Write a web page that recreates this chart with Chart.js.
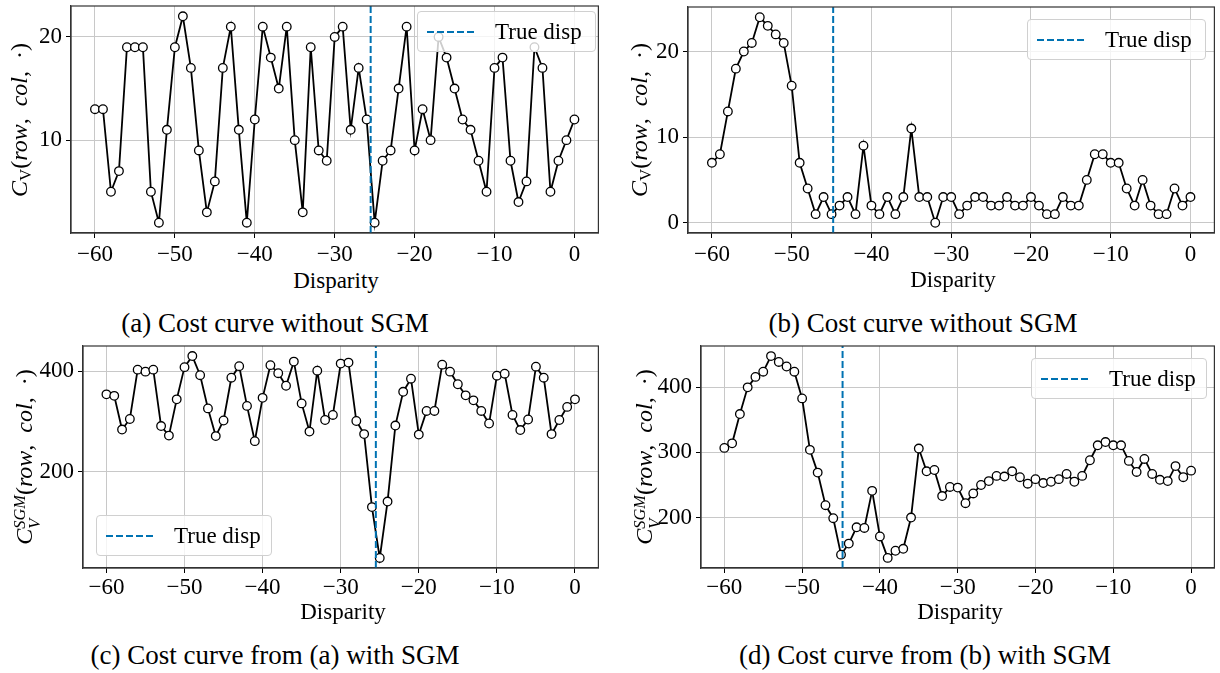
<!DOCTYPE html>
<html>
<head>
<meta charset="utf-8">
<script src="https://cdn.jsdelivr.net/npm/chart.js@4"></script>
<style>
  body { margin: 0; width: 1220px; height: 673px; background: #fff; overflow: hidden; position: relative; font-family: 'Liberation Serif', serif; color: #000; }
  canvas { position: absolute; }
  .txt { position: absolute; white-space: nowrap; transform: translate(-50%, -50%); line-height: 1; }
  .cap { font-size: 27px; }
  .xlab { font-size: 23px; }
  .ylab { font-size: 24px; transform: translate(-50%, -50%) rotate(-90deg); }
  .ylab sub { font-size: 0.7em; vertical-align: -0.25em; }
  .ss { display: inline-flex; flex-direction: column; font-size: 0.68em; line-height: 0.95; vertical-align: 0.45em; font-style: italic; }
  .legend { position: absolute; box-sizing: border-box; height: 41px; border: 1px solid #d0d0d0; border-radius: 4px; background: rgba(255,255,255,0.8); display: flex; align-items: center; font-size: 23px; }
  .legend .dash { width: 49px; height: 2px; margin: 0 19px 0 9px; background: repeating-linear-gradient(to right, #0072b2 0 7px, transparent 7px 10px); }
</style>
</head>
<body>
<canvas id="chartA"></canvas>
<canvas id="chartB"></canvas>
<canvas id="chartC"></canvas>
<canvas id="chartD"></canvas>

<div class="txt ylab" style="left:21px; top:120px;"><i>C</i><sub>V</sub>(<i>row</i>, &nbsp;<i>col</i>, &nbsp;·)</div>
<div class="txt ylab" style="left:641px; top:120px;"><i>C</i><sub>V</sub>(<i>row</i>, &nbsp;<i>col</i>, &nbsp;·)</div>
<div class="txt ylab" style="left:27px; top:457px;"><i>C</i><span class="ss"><span>SGM</span><span>V</span></span>(<i>row</i>, &nbsp;<i>col</i>, &nbsp;·)</div>
<div class="txt ylab" style="left:647px; top:457px;"><i>C</i><span class="ss"><span>SGM</span><span>V</span></span>(<i>row</i>, &nbsp;<i>col</i>, &nbsp;·)</div>

<div class="txt xlab" style="left:336px; top:280px;">Disparity</div>
<div class="txt xlab" style="left:953px; top:279px;">Disparity</div>
<div class="txt xlab" style="left:343px; top:611px;">Disparity</div>
<div class="txt xlab" style="left:960px; top:611px;">Disparity</div>

<div class="txt cap" style="left:275px; top:323px;">(a) Cost curve without SGM</div>
<div class="txt cap" style="left:923px; top:323px;">(b) Cost curve without SGM</div>
<div class="txt cap" style="left:275px; top:655px;">(c) Cost curve from (a) with SGM</div>
<div class="txt cap" style="left:925px; top:655px;">(d) Cost curve from (b) with SGM</div>

<div class="legend" style="left:417px; top:11px; width:179px;"><span class="dash"></span>True disp</div>
<div class="legend" style="left:1027px; top:19px; width:179px;"><span class="dash"></span>True disp</div>
<div class="legend" style="left:96px; top:515px; width:176px;"><span class="dash"></span>True disp</div>
<div class="legend" style="left:1031px; top:358px; width:176px;"><span class="dash"></span>True disp</div>

<script>
// disparity axis shared by all four panels
const disparity = [-60, -59, -58, -57, -56, -55, -54, -53, -52, -51,
                   -50, -49, -48, -47, -46, -45, -44, -43, -42, -41,
                   -40, -39, -38, -37, -36, -35, -34, -33, -32, -31,
                   -30, -29, -28, -27, -26, -25, -24, -23, -22, -21,
                   -20, -19, -18, -17, -16, -15, -14, -13, -12, -11,
                   -10, -9, -8, -7, -6, -5, -4, -3, -2, -1, 0];

// (a) cost curve without SGM
const costA = [13, 13, 5, 7, 19, 19, 19, 5, 2, 11,
               19, 22, 17, 9, 3, 6, 17, 21, 11, 2,
               12, 21, 18, 15, 21, 10, 3, 19, 9, 8,
               20, 21, 11, 17, 12, 2, 8, 9, 15, 21,
               9, 13, 10, 20, 18, 15, 12, 11, 8, 5,
               17, 18, 8, 4, 6, 19, 17, 5, 8, 10, 12];
// (b) cost curve without SGM
const costB = [7, 8, 13, 18, 20, 21, 24, 23, 22, 21,
               16, 7, 4, 1, 3, 1, 2, 3, 1, 9,
               2, 1, 3, 1, 3, 11, 3, 3, 0, 3,
               3, 1, 2, 3, 3, 2, 2, 3, 2, 2,
               3, 2, 1, 1, 3, 2, 2, 5, 8, 8,
               7, 7, 4, 2, 5, 2, 1, 1, 4, 2, 3];
// (c) cost curve from (a) with SGM
const costC = [354, 351, 284, 305, 403, 399, 403, 291, 272, 344,
               408, 430, 392, 326, 271, 302, 387, 410, 331, 261,
               347, 412, 396, 371, 419, 336, 280, 401, 303, 313,
               415, 417, 301, 275, 130, 29, 141, 292, 359, 385,
               274, 321, 321, 413, 399, 374, 352, 342, 321, 296,
               391, 395, 313, 283, 304, 409, 387, 275, 303, 329, 344];
// (d) cost curve from (b) with SGM
const costD = [307, 314, 359, 400, 416, 424, 448, 439, 432, 424,
               383, 304, 269, 219, 199, 143, 160, 185, 184, 241,
               171, 138, 149, 152, 200, 306, 271, 273, 233, 247,
               246, 222, 237, 250, 256, 264, 263, 271, 262, 252,
               259, 253, 255, 259, 267, 255, 264, 288, 311, 316,
               311, 311, 287, 270, 290, 267, 258, 256, 279, 262, 272];

const trueDispAC = -25.5;
const trueDispBD = -44.8;

const xTicks = [-60, -50, -40, -30, -20, -10, 0];
const xRange = [-63, 3];
const yTicksA = [10, 20];
const yRangeA = [1, 23];
const yTicksB = [0, 10, 20];
const yRangeB = [-1.2, 25.2];
const yTicksC = [200, 400];
const yRangeC = [9, 450];
const yTicksD = [200, 300, 400];
const yRangeD = [122.5, 463.5];

const FONT = { family: "'Liberation Serif', serif", size: 23 };
const GRID = '#c8c8c8';
const SPINE = '#333';
const Y_AXIS_W = 70, X_AXIS_H = 34, PAD_TOP = 6, PAD_RIGHT = 2;

function fmt(v) {
    return v < 0 ? '\u2212' + Math.abs(v) : String(v);
}

// draws the top and right spines
const framePlugin = {
    id: 'frame',
    afterDraw(chart) {
        const a = chart.chartArea, ctx = chart.ctx;
        ctx.save();
        ctx.strokeStyle = SPINE;
        ctx.lineWidth = 1.2;
        ctx.strokeRect(a.left, a.top, a.right - a.left, a.bottom - a.top);
        ctx.restore();
    }
};

function makePanel(id, plot, values, yTicks, yRange, trueDisp, xPad) {
    const canvas = document.getElementById(id);
    const w = plot.w + Y_AXIS_W + PAD_RIGHT;
    const h = plot.h + PAD_TOP + X_AXIS_H;
    canvas.width = w;
    canvas.height = h;
    canvas.style.left = (plot.l - Y_AXIS_W) + 'px';
    canvas.style.top = (plot.t - PAD_TOP) + 'px';
    canvas.style.width = w + 'px';
    canvas.style.height = h + 'px';

    new Chart(canvas.getContext('2d'), {
        type: 'line',
        data: {
            datasets: [
                {
                    label: 'True disp',
                    data: [{ x: trueDisp, y: yRange[0] }, { x: trueDisp, y: yRange[1] }],
                    borderColor: '#0072b2',
                    borderWidth: 2,
                    borderDash: [7, 3],
                    pointRadius: 0,
                    order: 0
                },
                {
                    label: 'cost',
                    data: disparity.map((d, i) => ({ x: d, y: values[i] })),
                    borderColor: '#000',
                    borderWidth: 1.8,
                    pointRadius: 4.3,
                    pointBorderWidth: 1.3,
                    pointBackgroundColor: '#fff',
                    pointBorderColor: '#000',
                    tension: 0,
                    order: 1
                }
            ]
        },
        options: {
            responsive: false,
            animation: false,
            devicePixelRatio: 1,
            layout: { padding: { left: 0, top: PAD_TOP, right: PAD_RIGHT, bottom: 0 } },
            plugins: { legend: { display: false }, tooltip: { enabled: false } },
            scales: {
                x: {
                    type: 'linear',
                    min: xRange[0],
                    max: xRange[1],
                    afterBuildTicks(s) { s.ticks = xTicks.map(v => ({ value: v })); },
                    afterFit(s) { s.height = X_AXIS_H; s.paddingLeft = 0; s.paddingRight = 0; },
                    ticks: { font: FONT, color: '#000', padding: xPad, maxRotation: 0, autoSkip: false, callback: fmt },
                    grid: { color: GRID, lineWidth: 1, tickLength: 5, tickColor: '#000', tickWidth: 1 },
                    border: { color: SPINE, width: 1.2 }
                },
                y: {
                    type: 'linear',
                    min: yRange[0],
                    max: yRange[1],
                    afterBuildTicks(s) { s.ticks = yTicks.map(v => ({ value: v })); },
                    afterFit(s) { s.width = Y_AXIS_W; s.paddingTop = 0; s.paddingBottom = 0; },
                    ticks: { font: FONT, color: '#000', padding: 4, callback: fmt },
                    grid: { color: GRID, lineWidth: 1, tickLength: 5, tickColor: '#000', tickWidth: 1 },
                    border: { color: SPINE, width: 1.2 }
                }
            }
        },
        plugins: [framePlugin]
    });
}

makePanel('chartA', { l: 71, t: 6, w: 531, h: 227 }, costA, yTicksA, yRangeA, trueDispAC, 3);
makePanel('chartB', { l: 688, t: 7, w: 530, h: 226 }, costB, yTicksB, yRangeB, trueDispBD, 3);
makePanel('chartC', { l: 83, t: 346, w: 519, h: 222 }, costC, yTicksC, yRangeC, trueDispAC, 1);
makePanel('chartD', { l: 701, t: 346, w: 517, h: 222 }, costD, yTicksD, yRangeD, trueDispBD, 1);
</script>
</body>
</html>
